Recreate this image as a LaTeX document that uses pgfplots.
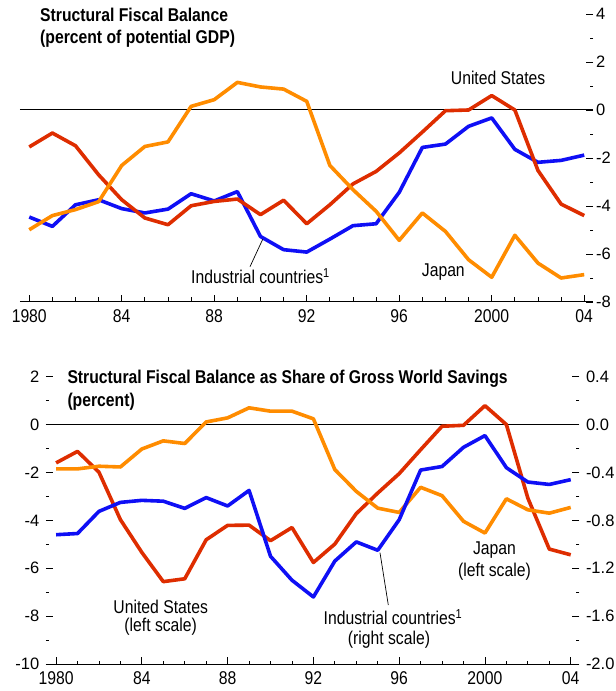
\documentclass[border=0pt]{standalone}
\usepackage{fontspec}
\setmainfont{Liberation Sans}[FakeStretch=0.85]
\newfontfamily\tickfont{Liberation Sans}
\usepackage{pgfplots}
\pgfplotsset{compat=1.18}
\definecolor{cblue}{RGB}{15,15,245}
\definecolor{cred}{RGB}{222,45,0}
\definecolor{corange}{RGB}{255,140,0}

\pgfplotstableread{
year ind us jp
1980 -4.46 -1.54 -4.99
1981 -4.85 -0.96 -4.40
1982 -3.95 -1.49 -4.15
1983 -3.74 -2.70 -3.82
1984 -4.11 -3.74 -2.31
1985 -4.29 -4.50 -1.52
1986 -4.13 -4.78 -1.33
1987 -3.49 -3.99 0.15
1988 -3.79 -3.81 0.43
1989 -3.40 -3.71 1.15
1990 -5.27 -4.36 0.96
1991 -5.82 -3.76 0.87
1992 -5.92 -4.74 0.36
1993 -5.38 -3.95 -2.31
1994 -4.82 -3.08 -3.32
1995 -4.74 -2.56 -4.22
1996 -3.43 -1.79 -5.43
1997 -1.56 -0.92 -4.29
1998 -1.42 -0.03 -5.06
1999 -0.68 0.00 -6.24
2000 -0.33 0.60 -6.97
2001 -1.64 0.00 -5.22
2002 -2.18 -2.52 -6.38
2003 -2.10 -3.92 -7.00
2004 -1.88 -4.40 -6.86
}\topdata

\pgfplotstableread{
year ind us jp
1980 -0.920 -1.60 -1.85
1981 -0.910 -1.12 -1.85
1982 -0.725 -1.99 -1.74
1983 -0.650 -3.97 -1.77
1984 -0.633 -5.34 -1.02
1985 -0.640 -6.56 -0.68
1986 -0.700 -6.44 -0.79
1987 -0.610 -4.81 0.11
1988 -0.680 -4.21 0.28
1989 -0.550 -4.20 0.70
1990 -1.100 -4.85 0.56
1991 -1.300 -4.30 0.56
1992 -1.440 -5.76 0.24
1993 -1.140 -4.99 -1.88
1994 -0.980 -3.72 -2.79
1995 -1.050 -2.86 -3.49
1996 -0.795 -2.05 -3.67
1997 -0.380 -1.05 -2.62
1998 -0.350 -0.07 -2.97
1999 -0.190 -0.03 -4.04
2000 -0.092 0.79 -4.53
2001 -0.360 0.00 -3.10
2002 -0.480 -3.07 -3.56
2003 -0.500 -5.20 -3.70
2004 -0.460 -5.44 -3.46
}\botdata

\pgfplotsset{
  base/.style={
    scale only axis, tick align=inside,
    major tick length=7pt, minor tick length=4pt,
    every tick/.style={black, line width=0.8pt},
    every minor tick/.style={black, line width=0.8pt},
    yticklabel style={font=\tickfont\fontsize{16.5}{16.5}\selectfont, inner sep=2pt},
    xticklabel style={font=\fontsize{18.5}{18.5}\selectfont, inner sep=2pt, yshift=-5pt},
  },
  xsetup/.style={
    axis x line*=bottom, x axis line style={-, line width=1pt},
    xtick={1980,1984,...,2004},
    xticklabels={1980,84,88,92,96,2000,04},
    minor xtick={1980,...,2004},
  },
  ser/.style={line width=3.6pt, line join=round},
}

\begin{document}
\begin{tikzpicture}[x=1pt,y=1pt]
\useasboundingbox (0,0) rectangle (616,691);

% ---------- TOP PANEL ----------
\begin{axis}[base, xsetup, at={(20pt,389pt)}, anchor=south west,
  width=573pt, height=288pt, xmin=1979.6, xmax=2004.38, ymin=-8, ymax=4,
  axis y line*=left, y axis line style={draw=none},
  ytick=\empty, minor ytick={-8,...,4}, minor tick length=5pt]
  \addplot[black, line width=1pt, forget plot] coordinates {(1979.6,0) (2004.38,0)};
  \addplot[ser, cblue] table[x=year, y=ind] {\topdata};
  \addplot[ser, cred] table[x=year, y=us] {\topdata};
  \addplot[ser, corange] table[x=year, y=jp] {\topdata};
\end{axis}
\begin{axis}[base, at={(20pt,389pt)}, anchor=south west,
  width=573pt, height=288pt, xmin=1979.6, xmax=2004.38, ymin=-8, ymax=4,
  axis x line=none, axis y line*=right, y axis line style={draw=none},
  ytick={-8,-6,-4,-2,0,2,4}, yticklabels={-8,-6,-4,-2,0,2,4},
  yticklabel style={xshift=1pt},
  minor ytick={-7,-5,-3,-1,1,3}, minor tick length=3.5pt]
\end{axis}

% ---------- BOTTOM PANEL ----------
\begin{axis}[base, xsetup, at={(46pt,27pt)}, anchor=south west,
  width=533.3pt, height=287.3pt, xmin=1979.53, xmax=2004.4, ymin=-10, ymax=2,
  axis y line*=left, y axis line style={draw=none},
  ytick={-10,-8,-6,-4,-2,0,2}, yticklabels={-10,-8,-6,-4,-2,0,2},
  yticklabel style={xshift=-4.5pt},
  minor ytick={-9,-7,-5,-3,-1,1}, minor tick length=3.5pt]
  \addplot[black, line width=1.4pt, forget plot] coordinates {(1979.53,0) (2004.4,0)};
  \addplot[ser, cred] table[x=year, y=us] {\botdata};
  \addplot[ser, corange] table[x=year, y=jp] {\botdata};
\end{axis}
\begin{axis}[base, at={(46pt,27pt)}, anchor=south west,
  width=533.3pt, height=287.3pt, xmin=1979.53, xmax=2004.4, ymin=-2, ymax=0.4,
  axis x line=none, axis y line*=right, y axis line style={draw=none},
  ytick={-2,-1.6,-1.2,-0.8,-0.4,0,0.4},
  yticklabels={-2.0,-1.6,-1.2,-0.8,-0.4,0.0,0.4},
  yticklabel style={xshift=4.5pt},
  minor ytick={-1.8,-1.4,-1,-0.6,-0.2,0.2}, minor tick length=3.5pt]
  \addplot[ser, cblue] table[x=year, y=ind] {\botdata};
\end{axis}

% ---------- TEXT ----------
\begin{scope}[every node/.style={inner sep=0pt, font=\fontsize{18.5}{18.5}\selectfont}]
\node[anchor=base west, font=\fontsize{18.5}{18.5}\selectfont\bfseries] at (40,669.3) {Structural Fiscal Balance};
\node[anchor=base west, font=\fontsize{18.5}{18.5}\selectfont\bfseries] at (40,647.7) {(percent of potential GDP)};
\node[anchor=base west] at (450.7,606) {United States};
\node[anchor=base west] at (191,407.7) {Industrial countries\textsuperscript{1}};
\node[anchor=base west] at (421.7,414.3) {Japan};
\draw[black, line width=0.7pt] (262.7,451.7) -- (250,424.3);

\node[anchor=base west, font=\fontsize{18.5}{18.5}\selectfont\bfseries] at (67.3,307.7) {Structural Fiscal Balance as Share of Gross World Savings};
\node[anchor=base west, font=\fontsize{18.5}{18.5}\selectfont\bfseries] at (67.3,284.3) {(percent)};
\node[anchor=base] at (160.7,77.7) {United States};
\node[anchor=base] at (160.7,59.3) {(left scale)};
\node[anchor=base] at (393,66) {Industrial countries\textsuperscript{1}};
\node[anchor=base] at (389,46) {(right scale)};
\draw[black, line width=0.7pt] (380,138.3) -- (388.3,86);
\node[anchor=base] at (494.5,136) {Japan};
\node[anchor=base] at (494.5,114.3) {(left scale)};
\end{scope}
\end{tikzpicture}
\end{document}
